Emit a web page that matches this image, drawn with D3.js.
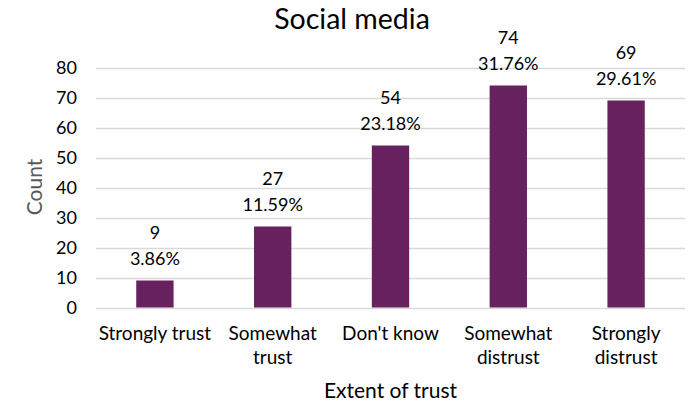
<!DOCTYPE html>
<html>
<head>
<meta charset="utf-8">
<script src="https://cdn.jsdelivr.net/npm/d3@7"></script>
<style>
  html, body { margin: 0; padding: 0; background: #fff; }
  svg { display: block; font-family: Lato, "Open Sans", sans-serif; }
</style>
</head>
<body>
<svg id="chart" width="690" height="404"></svg>
<script>
// Survey answers: trust in social media
const categories = ["Strongly trust", "Somewhat trust", "Don't know", "Somewhat distrust", "Strongly distrust"];
const categoryLines = [["Strongly trust"], ["Somewhat", "trust"], ["Don't know"], ["Somewhat", "distrust"], ["Strongly", "distrust"]];
const counts = [9, 27, 54, 74, 69];
const shares = ["3.86%", "11.59%", "23.18%", "31.76%", "29.61%"];
const yTicks = [0, 10, 20, 30, 40, 50, 60, 70, 80];

const svg = d3.select("#chart");
const margin = { left: 96, right: 5, top: 67.5, bottom: 96.5 };
const width = 690, height = 404;

const x = d3.scaleBand()
  .domain(categories)
  .range([margin.left, width - margin.right])
  .paddingInner(0.683)
  .paddingOuter(0.3415);

const y = d3.scaleLinear()
  .domain([0, 80])
  .range([height - margin.bottom, margin.top]);

// gridlines
svg.append("g")
  .selectAll("line")
  .data(yTicks)
  .join("line")
  .attr("x1", margin.left)
  .attr("x2", width - margin.right)
  .attr("y1", d => Math.round(y(d)) + 0.5)
  .attr("y2", d => Math.round(y(d)) + 0.5)
  .attr("stroke", "#d9d9d9")
  .attr("stroke-width", 1.5);

// y axis labels
const yAxis = d3.axisLeft(y).tickValues(yTicks).tickSize(0).tickPadding(0);
const yg = svg.append("g")
  .attr("transform", `translate(${margin.left - 19},0)`)
  .call(yAxis);
yg.select(".domain").remove();
yg.selectAll("text")
  .attr("font-family", "Lato, sans-serif")
  .attr("font-size", 18)
  .attr("fill", "#000");

// bars
svg.append("g")
  .selectAll("rect")
  .data(counts)
  .join("rect")
  .attr("x", (d, i) => x(categories[i]))
  .attr("width", x.bandwidth())
  .attr("y", d => y(d))
  .attr("height", d => y(0) - y(d))
  .attr("fill", "#67215f");

// value labels: count over share
const lab = svg.append("g")
  .attr("font-size", 18)
  .attr("text-anchor", "middle")
  .attr("fill", "#000");
counts.forEach((c, i) => {
  const cx = x(categories[i]) + x.bandwidth() / 2;
  lab.append("text").attr("x", cx).attr("y", y(c) - 15.5).text(shares[i]);
  lab.append("text").attr("x", cx).attr("y", y(c) - 42).text(c);
});

// x axis category labels
const xg = svg.append("g")
  .attr("font-size", 19)
  .attr("text-anchor", "middle")
  .attr("fill", "#000");
categoryLines.forEach((lines, i) => {
  const cx = x(categories[i]) + x.bandwidth() / 2;
  lines.forEach((t, j) => {
    xg.append("text").attr("x", cx).attr("y", 339.5 + j * 24.5).text(t);
  });
});

// axis titles
svg.append("text")
  .attr("x", x.range()[0] + (x.range()[1] - x.range()[0]) / 2)
  .attr("y", 398)
  .attr("text-anchor", "middle")
  .attr("font-size", 21)
  .attr("fill", "#000")
  .text("Extent of trust");

svg.append("text")
  .attr("transform", "translate(42,187) rotate(-90)")
  .attr("text-anchor", "middle")
  .attr("font-size", 21)
  .attr("fill", "#595959")
  .text("Count");

// title
svg.append("text")
  .attr("x", 352)
  .attr("y", 28.5)
  .attr("text-anchor", "middle")
  .attr("font-size", 28.5)
  .attr("fill", "#000")
  .text("Social media");
</script>
</body>
</html>
